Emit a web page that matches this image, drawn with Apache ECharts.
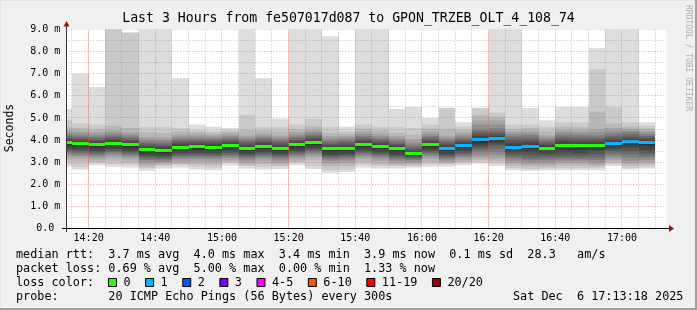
<!DOCTYPE html>
<html><head><meta charset="utf-8">
<script src="https://cdn.jsdelivr.net/npm/echarts@6/dist/echarts.min.js"></script>
<style>html,body{margin:0;padding:0;background:#f0f0f0}#c{width:697px;height:310px}</style>
</head><body><div id="c"></div>
<script>
const titleText = 'Last 3 Hours from fe507017d087 to GPON_TRZEB_OLT_4_108_74';
const yTickValues = [0,1,2,3,4,5,6,7,8,9];
const xLabelMinutes = [860,880,900,920,940,960,980,1000,1020];
const hourLineMinutes = [860,920,980];
const axisStart = 853.3;   // 14:13:18
const axisEnd = 1033.3;    // 17:13:18
const barStart = [850,855,860,865,870,875,880,885,890,895,900,905,910,915,920,925,930,935,
                  940,945,950,955,960,965,970,975,980,985,990,995,1000,1005,1010,1015,1020,1025];
const median = [3.87,3.83,3.78,3.86,3.78,3.57,3.54,3.68,3.69,3.68,3.74,3.63,3.72,3.63,3.78,3.89,3.60,3.63,
                3.80,3.71,3.60,3.39,3.80,3.62,3.75,4.02,4.05,3.66,3.71,3.63,3.77,3.74,3.75,3.84,3.93,3.89];
const lossCount = [0,0,0,0,0,0,0,0,0,0,0,0,0,0,0,0,0,0,
                   0,0,0,0,0,1,1,1,1,1,1,0,0,0,0,1,1,1];
// 20 sorted ping RTTs (ms) per 5-minute step
const pings = [
 [2.80,2.92,3.07,3.21,3.32,3.40,3.47,3.54,3.61,3.75,3.92,4.01,4.09,4.17,4.25,4.34,4.44,4.59,4.90,5.40],
 [2.67,2.79,3.03,3.17,3.28,3.36,3.43,3.50,3.57,3.71,3.88,3.97,4.05,4.13,4.21,4.30,4.40,4.55,4.75,7.00],
 [2.86,2.98,3.00,3.12,3.23,3.31,3.38,3.45,3.52,3.66,3.83,3.92,4.00,4.08,4.16,4.25,4.35,4.50,4.70,6.40],
 [2.79,2.91,3.06,3.20,3.31,3.39,3.46,3.53,3.60,3.74,3.91,4.00,4.08,4.16,4.24,4.33,4.43,4.65,9.30,9.60],
 [2.76,2.88,2.98,3.12,3.23,3.31,3.38,3.45,3.52,3.66,3.83,3.92,4.00,4.08,4.16,4.25,4.35,4.55,8.85,8.86],
 [2.61,2.73,2.80,2.91,3.02,3.10,3.17,3.24,3.31,3.45,3.62,3.71,3.79,3.87,3.95,4.04,4.14,4.35,4.60,9.60],
 [2.71,2.83,2.88,2.95,3.01,3.07,3.14,3.21,3.28,3.42,3.59,3.68,3.76,3.84,3.92,4.01,4.11,4.32,4.60,9.60],
 [2.76,2.88,2.92,3.02,3.13,3.21,3.28,3.35,3.42,3.56,3.73,3.82,3.90,3.98,4.06,4.15,4.25,4.40,4.55,6.80],
 [2.67,2.79,2.89,3.03,3.14,3.22,3.29,3.36,3.43,3.57,3.74,3.83,3.91,3.99,4.07,4.16,4.25,4.36,4.45,4.70],
 [2.64,2.76,2.88,3.02,3.13,3.21,3.28,3.35,3.42,3.56,3.73,3.82,3.90,3.98,4.06,4.14,4.22,4.31,4.40,4.60],
 [2.85,2.97,3.00,3.08,3.19,3.27,3.34,3.41,3.48,3.62,3.79,3.88,3.96,4.04,4.12,4.20,4.28,4.37,4.45,4.55],
 [2.71,2.83,2.86,2.97,3.08,3.16,3.23,3.30,3.37,3.51,3.68,3.77,3.85,3.93,4.01,4.10,4.20,4.45,5.15,9.60],
 [2.67,2.79,2.92,3.06,3.17,3.25,3.32,3.39,3.46,3.60,3.77,3.86,3.94,4.02,4.10,4.19,4.29,4.44,4.60,6.80],
 [2.69,2.81,2.85,2.97,3.08,3.16,3.23,3.30,3.37,3.51,3.68,3.77,3.85,3.93,4.01,4.10,4.20,4.40,4.60,4.97],
 [2.86,2.98,3.00,3.12,3.23,3.31,3.38,3.45,3.52,3.66,3.83,3.92,4.00,4.08,4.16,4.25,4.35,4.50,4.70,9.60],
 [2.69,2.81,3.09,3.23,3.34,3.42,3.49,3.56,3.63,3.77,3.94,4.03,4.11,4.19,4.27,4.36,4.46,4.61,4.95,9.60],
 [2.52,2.64,2.80,2.94,3.05,3.13,3.20,3.27,3.34,3.48,3.65,3.74,3.82,3.90,3.98,4.07,4.17,4.32,4.60,8.70],
 [2.55,2.67,2.83,2.97,3.08,3.16,3.23,3.30,3.37,3.51,3.68,3.77,3.85,3.93,4.01,4.10,4.20,4.30,4.40,4.60],
 [2.76,2.88,3.00,3.14,3.25,3.33,3.40,3.47,3.54,3.68,3.85,3.94,4.02,4.10,4.18,4.27,4.37,4.52,4.70,9.60],
 [2.71,2.83,2.91,3.05,3.16,3.24,3.31,3.38,3.45,3.59,3.76,3.85,3.93,4.01,4.09,4.18,4.28,4.43,4.60,9.60],
 [2.71,2.83,2.86,2.94,3.05,3.13,3.20,3.27,3.34,3.48,3.65,3.74,3.82,3.90,3.98,4.07,4.17,4.32,4.60,5.40],
 [2.76,2.82,2.88,2.95,3.02,3.10,3.16,3.21,3.25,3.30,3.42,3.50,3.60,3.70,3.80,3.90,4.05,4.25,4.55,5.50],
 [2.79,2.91,3.00,3.14,3.25,3.33,3.40,3.47,3.54,3.68,3.85,3.94,4.02,4.10,4.18,4.27,4.37,4.52,4.70,5.00],
 [2.79,2.91,2.95,3.00,3.07,3.15,3.22,3.29,3.36,3.50,3.67,3.76,3.84,3.92,4.00,4.09,4.19,4.50,5.45,5.46],
 [2.86,2.98,3.00,3.09,3.20,3.28,3.35,3.42,3.49,3.63,3.80,3.89,3.97,4.05,4.13,4.22,4.32,4.45,4.60,4.80],
 [2.94,3.00,3.10,3.20,3.30,3.45,3.55,3.65,3.75,3.85,4.08,4.20,4.30,4.40,4.49,4.70,4.90,5.13,5.43,5.46],
 [2.83,2.95,3.05,3.17,3.30,3.45,3.60,3.75,3.85,3.95,4.10,4.20,4.30,4.40,4.53,4.70,4.90,5.05,5.25,9.60],
 [2.64,2.72,2.85,2.95,3.05,3.15,3.25,3.35,3.45,3.55,3.75,3.85,4.00,4.10,4.20,4.30,4.38,4.50,4.70,9.60],
 [2.61,2.68,2.80,2.90,3.00,3.10,3.17,3.30,3.45,3.60,3.78,3.90,4.00,4.10,4.23,4.30,4.40,4.55,4.70,5.45],
 [2.64,2.72,2.80,2.90,3.00,3.10,3.20,3.30,3.40,3.55,3.70,3.78,3.86,3.94,4.02,4.12,4.22,4.40,4.60,4.90],
 [2.64,2.72,2.85,2.95,3.05,3.12,3.20,3.30,3.45,3.60,3.82,3.95,4.05,4.15,4.25,4.35,4.45,4.60,4.80,5.50],
 [2.64,2.72,2.85,2.95,3.05,3.12,3.20,3.30,3.42,3.58,3.80,3.92,4.02,4.12,4.22,4.32,4.42,4.58,4.80,5.50],
 [2.64,2.75,2.82,2.90,3.00,3.10,3.20,3.35,3.50,3.62,3.80,3.92,4.02,4.12,4.22,4.35,4.50,5.28,7.20,8.15],
 [2.83,2.92,3.00,3.10,3.20,3.30,3.40,3.50,3.60,3.72,3.90,4.00,4.10,4.20,4.30,4.40,4.55,4.75,5.50,9.60],
 [2.67,2.75,2.85,2.95,3.05,3.20,3.35,3.50,3.65,3.80,4.00,4.05,4.15,4.25,4.35,4.42,4.50,4.60,4.80,9.60],
 [2.71,2.80,2.90,3.00,3.10,3.20,3.30,3.42,3.55,3.75,3.95,4.02,4.10,4.18,4.26,4.34,4.42,4.52,4.65,4.80]
];
const smokeColors = ['#dddddd','#cacaca','#b7b7b7','#a4a4a4','#919191','#7e7e7e','#6b6b6b','#585858','#454545','#323232'];
const lossLabels = ['0','1','2','3','4-5','6-10','11-19','20/20'];
const lossColors = ['#26ff00','#00b8ff','#0059ff','#7e00ff','#ff00ff','#ff5500','#ff0000','#a10000'];
const legendRows = [
  'median rtt:  3.7 ms avg  4.0 ms max  3.4 ms min  3.9 ms now  0.1 ms sd  28.3   am/s',
  'packet loss: 0.69 % avg  5.00 % max  0.00 % min  1.33 % now',
  'loss color:',
  'probe:       20 ICMP Echo Pings (56 Bytes) every 300s'
];
const dateText = 'Sat Dec  6 17:13:18 2025';
const yAxisName = 'Seconds';
const watermark = 'RRDTOOL / TOBI OETIKER';

const MONO = "'DejaVu Sans Mono', monospace";
const fmtTime = v => { const h = Math.floor(v/60), m = Math.round(v%60); return h + ':' + (m<10?'0':'') + m; };

const chart = echarts.init(document.getElementById('c'), null, {renderer:'canvas'});

const minorX = [], majorX = xLabelMinutes.slice();
for (let t = 855; t <= 1030; t += 5) if (majorX.indexOf(t) < 0) minorX.push(t);
const minorY = [0.5,1.5,2.5,3.5,4.5,5.5,6.5,7.5,8.5];
const majorY = yTickValues.filter(v => v > 0);

const graphic = [];
graphic.push({type:'rect', shape:{x:0,y:0,width:697,height:310}, style:{fill:'#f0f0f0'}, z:-10, silent:true});
graphic.push({type:'rect', shape:{x:0,y:0,width:697,height:1}, style:{fill:'#e4e4e4'}, silent:true});
graphic.push({type:'rect', shape:{x:0,y:0,width:1,height:310}, style:{fill:'#e4e4e4'}, silent:true});
graphic.push({type:'rect', shape:{x:695,y:0,width:2,height:310}, style:{fill:'#a0a0a0'}, silent:true});
graphic.push({type:'rect', shape:{x:0,y:308,width:697,height:2}, style:{fill:'#a0a0a0'}, silent:true});
graphic.push({type:'text', x:348.5, y:19, style:{text:titleText, font:"13.2px "+MONO, fill:'#000', align:'center', verticalAlign:'middle'}});
graphic.push({type:'text', x:10.5, y:128, rotation:Math.PI/2, style:{text:yAxisName, font:"11.5px "+MONO, fill:'#000', align:'center', verticalAlign:'middle'}});
graphic.push({type:'text', x:688, y:5, rotation:-Math.PI/2, style:{text:watermark, font:"8px "+MONO, fill:'#b0b0b0', align:'left', verticalAlign:'middle'}});
graphic.push({type:'line', shape:{x1:62,y1:228.5,x2:670,y2:228.5}, style:{stroke:'#000', lineWidth:1}, z:20});
graphic.push({type:'line', shape:{x1:66.5,y1:232,x2:66.5,y2:25}, style:{stroke:'#333', lineWidth:1}, z:20});
graphic.push({type:'polygon', shape:{points:[[669,225],[674,228.5],[669,232]]}, style:{fill:'#9b0d0d'}, z:21});
graphic.push({type:'polygon', shape:{points:[[63.5,26.5],[66.5,21],[69.5,26.5]]}, style:{fill:'#9b0d0d'}, z:21});
const rowY = [254.5, 268.5, 282.5, 296.5];
legendRows.forEach((r,i) => graphic.push({type:'text', x:16, y:rowY[i], style:{text:r, font:"11.8px "+MONO, fill:'#000', align:'left', verticalAlign:'middle'}}));
graphic.push({type:'text', x:513, y:rowY[3], style:{text:dateText, font:"11.8px "+MONO, fill:'#000', align:'left', verticalAlign:'middle'}});
let lx = 108.5;
lossLabels.forEach((lab,i) => {
  graphic.push({type:'rect', shape:{x:lx, y:278.5, width:8, height:8}, style:{fill:lossColors[i], stroke:'#000', lineWidth:1}});
  graphic.push({type:'text', x:lx+15, y:rowY[2], style:{text:lab, font:"11.8px "+MONO, fill:'#000', align:'left', verticalAlign:'middle'}});
  lx = lx + 15 + lab.length*7.12 + 15;
});

const option = {
  animation: false,
  backgroundColor: '#f0f0f0',
  grid: {left:66.3, right:30.7, top:29.5, bottom:81.5, show:true, backgroundColor:'#ffffff', borderWidth:0},
  xAxis: {
    type:'value', min:axisStart, max:axisEnd,
    axisLine:{show:false}, axisTick:{show:false}, splitLine:{show:false},
    axisLabel:{customValues:xLabelMinutes, formatter:v => fmtTime(v), fontFamily:MONO, fontSize:10, color:'#000', margin:5, hideOverlap:false}
  },
  yAxis: {
    type:'value', min:0, max:9, interval:1,
    axisLine:{show:false}, axisTick:{show:false}, splitLine:{show:false},
    axisLabel:{formatter:v => v === 0 ? '0.0 ' : v.toFixed(1) + ' m', fontFamily:MONO, fontSize:10, color:'#000', margin:6}
  },
  graphic: graphic,
  series: [
    {
      type:'custom', clip:true, silent:true, z:2,
      data: barStart.map((t,i) => [t, i]),
      encode:{x:0},
      renderItem: (params, api) => {
        const t = api.value(0), i = api.value(1);
        const p = pings[i];
        const x0 = Math.round(api.coord([t, 0])[0]);
        const x1 = Math.round(api.coord([t + 5, 0])[0]);
        const ch = [];
        for (let k = 0; k < 10; k++) {
          const yLo = api.coord([t, p[k]])[1];
          const yHi = api.coord([t, p[19-k]])[1];
          ch.push({type:'rect', shape:{x:x0, y:yHi, width:x1-x0, height:Math.max(yLo-yHi,0)}, style:{fill:smokeColors[k]}});
        }
        const ym = api.coord([t, median[i]])[1];
        ch.push({type:'rect', shape:{x:x0, y:Math.round(ym-1.5), width:x1-x0, height:3}, style:{fill:lossColors[lossCount[i]]}});
        return {type:'group', children:ch};
      }
    },
    {
      type:'custom', clip:true, silent:true, z:5,
      data:[[axisStart, 0]],
      renderItem: (params, api) => {
        const cs = params.coordSys;
        const yt = cs.y, yb = cs.y + cs.height, xl = cs.x, xr = cs.x + cs.width;
        const ch = [];
        const vline = (t, color, dash) => { const x = Math.floor(api.coord([t,0])[0]) + 0.5;
          ch.push({type:'line', shape:{x1:x,y1:yt,x2:x,y2:yb}, style:{stroke:color, lineWidth:1, lineDash:dash}}); };
        const hline = (v, color) => { const y = Math.floor(api.coord([axisStart,v])[1]) + 0.5;
          ch.push({type:'line', shape:{x1:xl,y1:y,x2:xr,y2:y}, style:{stroke:color, lineWidth:1, lineDash:[1,2]}}); };
        minorX.forEach(t => vline(t, 'rgba(110,110,110,0.45)', [1,2]));
        minorY.forEach(v => hline(v, 'rgba(110,110,110,0.45)'));
        majorX.forEach(t => vline(t, 'rgba(225,60,60,0.5)', [1,2]));
        hourLineMinutes.forEach(t => vline(t, 'rgba(235,90,90,0.25)', null));
        majorY.forEach(v => hline(v, 'rgba(225,60,60,0.5)'));
        return {type:'group', children:ch};
      }
    }
  ]
};
chart.setOption(option);
</script></body></html>
